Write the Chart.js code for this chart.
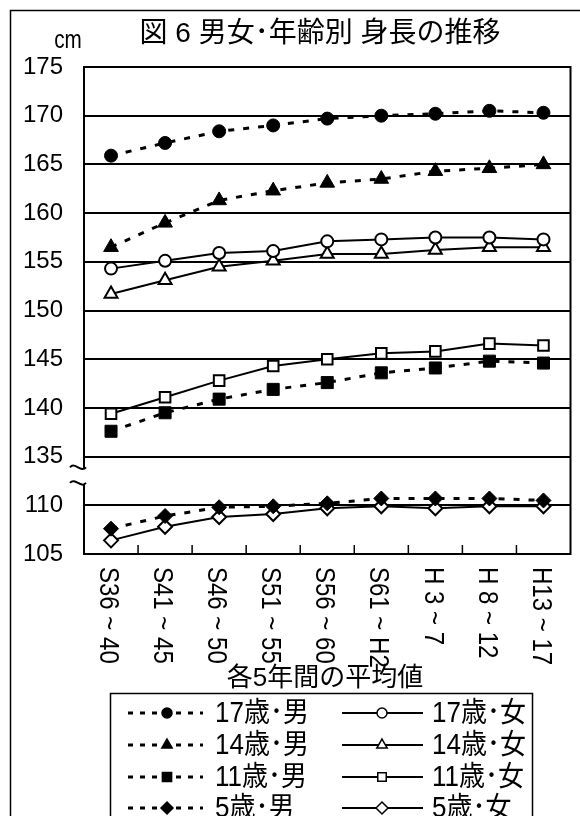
<!DOCTYPE html>
<html>
<head>
<meta charset="utf-8">
<script src="https://cdn.jsdelivr.net/npm/chart.js@4"></script>
<style>
  html, body { margin: 0; padding: 0; background: #fff; }
  #wrap { width: 580px; height: 816px; position: relative; }
</style>
</head>
<body>
<div id="wrap"><canvas id="myChart" width="580" height="816"></canvas></div>
<script>
const categories = ['S36 ~ 40', 'S41 ~ 45', 'S46 ~ 50', 'S51 ~ 55', 'S56 ~ 60', 'S61 ~ H2', 'H 3 ~ 7', 'H 8 ~ 12', 'H13 ~ 17'];

const boys17 = [165.9, 167.2, 168.4, 169.0, 169.7, 170.0, 170.2, 170.5, 170.3];
const boys14 = [156.5, 159.0, 161.3, 162.3, 163.1, 163.5, 164.3, 164.6, 165.0];
const boys11 = [137.6, 139.5, 140.9, 141.9, 142.6, 143.6, 144.1, 144.8, 144.6];
const boys5 = [107.6, 108.9, 109.8, 109.9, 110.2, 110.7, 110.7, 110.7, 110.5];
const girls17 = [154.3, 155.1, 155.9, 156.1, 157.1, 157.3, 157.5, 157.5, 157.3];
const girls14 = [151.7, 153.1, 154.5, 155.1, 155.8, 155.8, 156.2, 156.5, 156.5];
const girls11 = [139.4, 141.1, 142.8, 144.3, 145.0, 145.6, 145.8, 146.6, 146.4];
const girls5 = [106.4, 107.8, 108.8, 109.1, 109.7, 109.9, 109.7, 109.9, 109.9];

const title = '図 6 男女･年齢別 身長の推移';
const unitLabel = 'cm';
const xTitle = '各5年間の平均値';

// broken axis: 110 -> 135 is squeezed into one step
const GAP = 20;
const toAxis = (v) => (v >= 135 ? v - GAP : v);
const fromAxis = (v) => (v > 110 ? v + GAP : v);

const FONT = '"Liberation Sans", "Noto Sans CJK JP", sans-serif';

function maleSet(label, data, style, radius, legendRadius) {
  return {
    label,
    data: data.map(toAxis),
    borderColor: '#000',
    backgroundColor: '#000',
    borderWidth: 3,
    borderDash: [6, 9],
    pointStyle: style,
    pointRadius: radius,
    pointBorderWidth: 1,
    pointBackgroundColor: '#000',
    legendRadius,
  };
}

function femaleSet(label, data, style, radius, legendRadius) {
  return {
    label,
    data: data.map(toAxis),
    borderColor: '#000',
    backgroundColor: '#fff',
    borderWidth: 2,
    pointStyle: style,
    pointRadius: radius,
    pointBorderWidth: 2,
    pointBackgroundColor: '#fff',
    legendRadius,
  };
}

const frame = {
  id: 'frame',
  afterDraw(chart) {
    const { ctx, chartArea: a, scales } = chart;
    ctx.save();
    ctx.strokeStyle = '#000';
    ctx.fillStyle = '#000';

    // outer border
    ctx.lineWidth = 1.5;
    ctx.strokeRect(10.5, 10.5, 620, 900);

    // plot border
    ctx.lineWidth = 2;
    ctx.strokeRect(a.left, a.top, a.right - a.left, a.bottom - a.top);

    // inner tick marks on the x axis
    ctx.lineWidth = 1.5;
    for (let i = 1; i < categories.length; i += 1) {
      const x = (scales.x.getPixelForTick(i - 1) + scales.x.getPixelForTick(i)) / 2;
      ctx.beginPath();
      ctx.moveTo(x, a.bottom);
      ctx.lineTo(x, a.bottom - 9);
      ctx.stroke();
    }

    // title and unit
    ctx.textAlign = 'center';
    ctx.textBaseline = 'middle';
    ctx.font = `28px ${FONT}`;
    ctx.fillText(title, 320, 34);
    ctx.save();
    ctx.translate(68, 41);
    ctx.scale(0.9, 1.15);
    ctx.font = `23px ${FONT}`;
    ctx.fillText(unitLabel, 0, 0);
    ctx.restore();

    // vertical category labels
    ctx.font = `24px ${FONT}`;
    ctx.textAlign = 'left';
    categories.forEach((c, i) => {
      const x = scales.x.getPixelForTick(i) - 3;
      ctx.save();
      ctx.translate(x, a.bottom + 13);
      ctx.rotate(Math.PI / 2);
      ctx.scale(1, 1.18);
      ctx.fillText(c, 0, 0);
      ctx.restore();
    });

    ctx.textAlign = 'center';
    ctx.font = `26px ${FONT}`;
    ctx.fillText(xTitle, 325, 679);

    // axis break mark
    const bx = a.left - 14;
    const y1 = scales.y.getPixelForValue(112.3);
    const y2 = scales.y.getPixelForValue(113.9);
    ctx.fillStyle = '#fff';
    ctx.beginPath();
    ctx.moveTo(bx, y1);
    ctx.bezierCurveTo(bx + 5, y1 - 6, bx + 11, y1 + 6, bx + 16, y1);
    ctx.lineTo(bx + 16, y2);
    ctx.bezierCurveTo(bx + 11, y2 + 6, bx + 5, y2 - 6, bx, y2);
    ctx.closePath();
    ctx.fill();
    ctx.lineWidth = 2;
    [y1, y2].forEach((y) => {
      ctx.beginPath();
      ctx.moveTo(bx, y);
      ctx.bezierCurveTo(bx + 5, y - 6, bx + 11, y + 6, bx + 16, y);
      ctx.stroke();
    });

    // legend
    ctx.fillStyle = '#fff';
    ctx.lineWidth = 1.5;
    ctx.fillRect(110.5, 693.5, 422, 200);
    ctx.strokeRect(110.5, 693.5, 422, 200);
    const rows = [713, 745, 777, 808];
    const cols = [
      { x0: 128, x1: 203, mx: 167, tx: 215 },
      { x0: 342, x1: 423, mx: 382, tx: 432 },
    ];
    const order = [[0, 4], [1, 5], [2, 6], [3, 7]];
    ctx.font = `26px ${FONT}`;
    ctx.textAlign = 'left';
    order.forEach((pair, r) => {
      pair.forEach((di, c) => {
        const ds = chart.data.datasets[di];
        const col = cols[c];
        const y = rows[r];
        ctx.strokeStyle = '#000';
        ctx.lineWidth = ds.borderWidth;
        ctx.setLineDash(ds.borderDash ? [5, 7] : []);
        ctx.beginPath();
        ctx.moveTo(col.x0, y);
        ctx.lineTo(col.x1, y);
        ctx.stroke();
        ctx.setLineDash([]);
        ctx.fillStyle = ds.pointBackgroundColor;
        ctx.lineWidth = 1.5;
        Chart.helpers.drawPoint(ctx, {
          pointStyle: ds.pointStyle,
          radius: ds.legendRadius,
          rotation: 0,
          borderWidth: 1.5,
        }, col.mx, y);
        ctx.fillStyle = '#000';
        ctx.save();
        ctx.translate(col.tx, y + 1);
        ctx.scale(1, 1.1);
        ctx.fillText(ds.label, 0, 0);
        ctx.restore();
      });
    });
    ctx.restore();
  },
};

function draw() {
  const ctx = document.getElementById('myChart');
  // eslint-disable-next-line no-undef, no-new
  new Chart(ctx, {
    type: 'line',
    data: {
      labels: categories,
      datasets: [
        maleSet('17歳･男', boys17, 'circle', 6.5, 5),
        maleSet('14歳･男', boys14, 'triangle', 8.5, 6),
        maleSet('11歳･男', boys11, 'rect', 8.5, 6.5),
        maleSet('5歳･男', boys5, 'rectRot', 7.5, 6),
        femaleSet('17歳･女', girls17, 'circle', 6, 5),
        femaleSet('14歳･女', girls14, 'triangle', 7.5, 6),
        femaleSet('11歳･女', girls11, 'rect', 7.5, 6),
        femaleSet('5歳･女', girls5, 'rectRot', 7, 6),
      ],
    },
    options: {
      responsive: false,
      animation: false,
      layout: { padding: { top: 67, right: 4, left: 0, bottom: 0 } },
      plugins: {
        legend: { display: false },
        tooltip: { enabled: false },
      },
      elements: { line: { tension: 0 } },
      scales: {
        x: {
          offset: true,
          grid: { display: false },
          border: { display: true, color: '#000', width: 2 },
          ticks: { display: false },
          afterFit(scale) { scale.height = 262; },
        },
        y: {
          min: 105,
          max: 155,
          grid: { color: '#000', lineWidth: 2, drawTicks: false },
          border: { display: true, color: '#000', width: 2 },
          ticks: {
            stepSize: 5,
            padding: 21,
            color: '#000',
            font: { family: FONT, size: 24 },
            callback: (v) => fromAxis(v),
          },
          afterFit(scale) { scale.width = 84; },
        },
      },
    },
    plugins: [frame],
  });
}

draw();
</script>
</body>
</html>
